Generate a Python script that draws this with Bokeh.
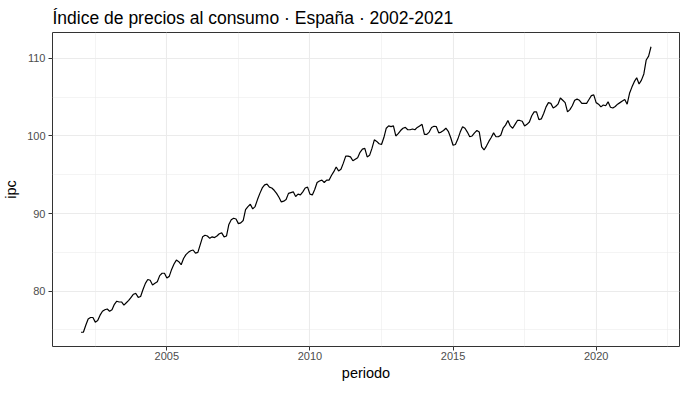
from bokeh.plotting import figure
from bokeh.models import FixedTicker, Range1d, ColumnDataSource
from bokeh.embed import file_html
from bokeh.resources import INLINE

# Monthly CPI values (Jan..Dec)
ipc_2002 = [74.7, 74.7, 75.6, 76.4, 76.6, 76.6, 76.0, 76.2, 76.9, 77.4, 77.6, 77.7]
ipc_2003 = [77.4, 77.6, 78.3, 78.7, 78.6, 78.6, 78.2, 78.5, 78.8, 79.2, 79.6, 79.7]
ipc_2004 = [79.2, 79.3, 80.2, 81.0, 81.5, 81.4, 80.8, 81.0, 81.2, 82.0, 82.3, 82.3]
ipc_2005 = [81.7, 81.9, 82.8, 83.5, 84.0, 83.8, 83.4, 84.2, 84.7, 85.0, 85.2, 85.3]
ipc_2006 = [84.9, 85.0, 86.0, 87.0, 87.2, 87.1, 86.8, 87.0, 86.9, 87.1, 87.4, 87.5]
ipc_2007 = [87.0, 87.1, 88.6, 89.2, 89.4, 89.3, 88.7, 88.8, 89.1, 90.5, 90.9, 91.2]
ipc_2008 = [90.6, 90.9, 91.8, 92.6, 93.3, 93.7, 93.8, 93.4, 93.3, 93.0, 92.6, 92.1]
ipc_2009 = [91.5, 91.6, 91.8, 92.6, 92.7, 92.8, 92.2, 92.5, 92.4, 92.8, 93.3, 93.4]
ipc_2010 = [92.5, 92.4, 93.1, 94.0, 94.2, 94.3, 94.0, 94.3, 94.3, 94.9, 95.4, 96.0]
ipc_2011 = [95.5, 95.7, 96.5, 97.4, 97.4, 97.3, 96.8, 97.0, 97.2, 97.9, 98.3, 98.4]
ipc_2012 = [97.3, 97.5, 98.4, 99.5, 99.3, 99.0, 98.9, 99.8, 101.0, 101.3, 101.2, 101.3]
ipc_2013 = [100.0, 100.3, 100.7, 101.0, 101.1, 100.8, 100.8, 100.9, 100.8, 101.1, 101.3, 101.5]
ipc_2014 = [100.2, 100.2, 100.5, 101.1, 101.25, 101.2, 100.4, 100.5, 100.7, 101.0, 100.6, 99.8]
ipc_2015 = [98.8, 98.9, 99.6, 100.5, 101.2, 101.0, 100.5, 99.9, 100.0, 100.4, 100.7, 100.5]
ipc_2016 = [98.6, 98.2, 98.7, 99.3, 99.8, 100.4, 99.9, 99.9, 100.1, 101.0, 101.4, 102.0]
ipc_2017 = [101.3, 101.0, 101.5, 102.0, 102.0, 101.9, 101.3, 101.5, 101.8, 102.6, 103.1, 103.1]
ipc_2018 = [102.1, 102.2, 102.9, 103.75, 104.3, 104.2, 103.6, 103.8, 104.1, 104.9, 104.6, 104.3]
ipc_2019 = [103.1, 103.4, 103.9, 104.6, 104.75, 104.6, 104.2, 104.2, 104.2, 104.7, 105.2, 105.3]
ipc_2020 = [104.3, 104.1, 103.75, 104.0, 103.9, 104.4, 103.7, 103.6, 103.8, 104.1, 104.3, 104.5]
ipc_2021 = [104.7, 104.1, 105.5, 106.3, 107.0, 107.5, 106.7, 107.2, 108.0, 109.8, 110.3, 111.5]

years = list(range(2002, 2022))
series_by_year = [ipc_2002, ipc_2003, ipc_2004, ipc_2005, ipc_2006, ipc_2007, ipc_2008,
                  ipc_2009, ipc_2010, ipc_2011, ipc_2012, ipc_2013, ipc_2014, ipc_2015,
                  ipc_2016, ipc_2017, ipc_2018, ipc_2019, ipc_2020, ipc_2021]

x_major_ticks = [2005, 2010, 2015, 2020]
x_minor_ticks = [2002.5, 2007.5, 2012.5, 2017.5, 2022.5]
y_major_ticks = [80, 90, 100, 110]
y_minor_ticks = [75, 85, 95, 105]

periodo = []
ipc = []
for yr, vals in zip(years, series_by_year):
    for m, v in enumerate(vals):
        periodo.append(yr + m / 12.0)
        ipc.append(v)

src = ColumnDataSource(dict(periodo=periodo, ipc=ipc))

xmin, xmax = min(periodo), max(periodo)
ymin, ymax = min(ipc), max(ipc)
xpad = 0.05 * (xmax - xmin)
ypad = 0.05 * (ymax - ymin)

FONT = "Liberation Sans"

p = figure(width=683, height=383, output_backend="svg", toolbar_location=None,
           x_range=Range1d(xmin - xpad, xmax + xpad),
           y_range=Range1d(ymin - ypad, ymax + ypad),
           title="Índice de precios al consumo · España · 2002-2021",
           min_border_left=48, min_border_right=4, min_border_bottom=30,
           min_border_top=0)

p.title.text_font = FONT
p.title.text_font_size = "17.5px"
p.title.text_font_style = "normal"
p.title.text_color = "#000000"
p.title.standoff = 10
p.title.offset = 0

p.background_fill_color = "white"
p.border_fill_color = "white"
p.outline_line_color = "#333333"
p.outline_line_width = 1

p.xaxis.ticker = FixedTicker(ticks=x_major_ticks, minor_ticks=x_minor_ticks)
p.yaxis.ticker = FixedTicker(ticks=y_major_ticks, minor_ticks=y_minor_ticks)

for ax in (p.xaxis, p.yaxis):
    ax.axis_line_color = None
    ax.major_tick_line_color = "#333333"
    ax.major_tick_out = 4
    ax.major_tick_in = 0
    ax.minor_tick_line_color = None
    ax.major_label_text_font = FONT
    ax.major_label_text_font_size = "11px"
    ax.major_label_text_color = "#4D4D4D"
    ax.axis_label_text_font = FONT
    ax.axis_label_text_font_size = "14.5px"
    ax.axis_label_text_font_style = "normal"
    ax.axis_label_text_color = "#000000"

p.yaxis.major_label_standoff = 3
p.yaxis.axis_label_standoff = 5
p.xaxis.major_label_standoff = 1
p.xaxis.axis_label_standoff = 2

p.xaxis.axis_label = "periodo"
p.yaxis.axis_label = "ipc"

for g in (p.xgrid, p.ygrid):
    g.grid_line_color = "#EBEBEB"
    g.grid_line_width = 1.1
    g.minor_grid_line_color = "#EBEBEB"
    g.minor_grid_line_width = 0.55

p.line("periodo", "ipc", source=src, line_color="black", line_width=1.2)

open("out.html", "w").write(file_html(p, INLINE))
